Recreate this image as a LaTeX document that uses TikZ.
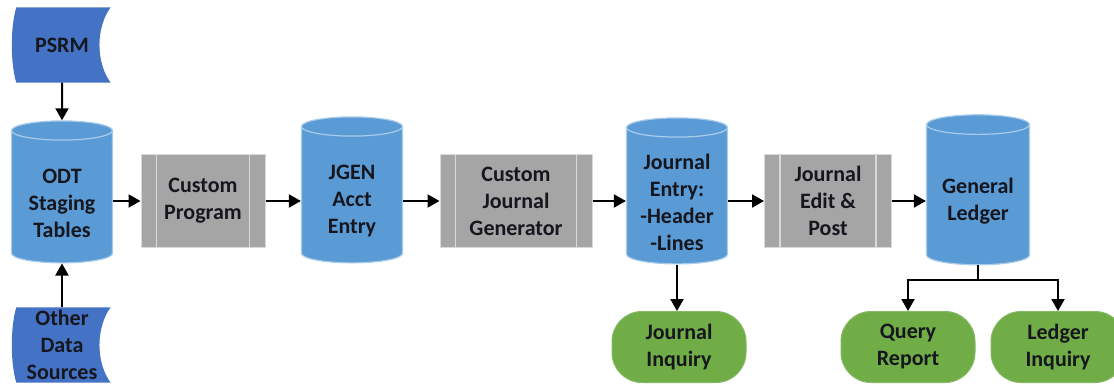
\documentclass[tikz,border=0pt]{standalone}
\usepackage{fontspec}
\setmainfont{Carlito}
\usetikzlibrary{shapes.geometric,arrows.meta,backgrounds}

\definecolor{srcblue}{HTML}{4472C4}
\definecolor{dbblue}{HTML}{5B9BD5}
\definecolor{dbline}{HTML}{A9CCEB}
\definecolor{procgray}{HTML}{A5A5A5}
\definecolor{procline}{HTML}{D9D9D9}
\definecolor{termgreen}{HTML}{70AD47}
\definecolor{txt}{HTML}{16161E}

\tikzset{
  lbl/.style={text=txt,font=\fontsize{22}{27}\selectfont\bfseries,align=center,inner sep=0pt},
  source/.style={lbl,minimum width=97,minimum height=75},
  db/.style={cylinder,shape border rotate=90,aspect=0.19,inner sep=0pt,text width=101pt,
    fill=dbblue,draw=dbline,line width=1.2pt,minimum height=146},
  dbtext/.style={label={[lbl,yshift=-6pt]center:#1}},
  proc/.style={lbl,rectangle,fill=procgray,draw=procline,line width=1pt,minimum width=124,minimum height=93},
  term/.style={lbl,rectangle,rounded corners=30,fill=termgreen,draw=termgreen!85!white,line width=1pt,minimum width=134,minimum height=71},
  flow/.style={-{Triangle[length=12pt,width=13pt]},line width=2pt,black},
}

\begin{document}
\begin{tikzpicture}[x=1pt,y=-1pt]
  \useasboundingbox (0,0) rectangle (1114,385);

  % sources
  \node (psrm)  at (62,45)  [source] {PSRM};
  \node (other) at (62,345) [source] {Other\\Data\\Sources};

  % stores, text sits a little below the middle
  \node (odt)  at (62,197)  [db,minimum height=142,dbtext={ODT\\Staging\\Tables}] {};
  \node (jgen) at (352,195) [db,dbtext={JGEN\\Acct\\Entry}] {};
  \node (je)   at (677,196) [db,dbtext={Journal\\Entry:\\-Header\\-Lines}] {};
  \node (gl)   at (978,195) [db,minimum height=150,text width=103pt,dbtext={General\\Ledger}] {};

  % processes
  \node (prog) at (203,201) [proc] {Custom\\Program};
  \node (cjg)  at (516,201) [proc,minimum width=152] {Custom\\Journal\\Generator};
  \node (jep)  at (828,201) [proc,minimum width=127] {Journal\\Edit \&\\Post};

  % outputs
  \node (jinq) at (679,347)  [term] {Journal\\Inquiry};
  \node (qrep) at (908,347)  [term] {Query\\Report};
  \node (linq) at (1058,347) [term] {Ledger\\Inquiry};

  % stored data outline behind the source labels
  \begin{scope}[on background layer]
    \foreach \s in {psrm,other}
      \fill[srcblue] ([xshift=3]\s.north west) -- (\s.north east)
        .. controls +(-15,20) and +(-15,-20) .. (\s.south east)
        -- ([xshift=3]\s.south west)
        .. controls +(-6,-20) and +(-6,20) .. ([xshift=3]\s.north west) -- cycle;
  \end{scope}

  % side bars of the process boxes
  \foreach \p in {prog,cjg,jep}{
    \draw[procline,line width=1.5pt] ([xshift=16]\p.north west) -- ([xshift=16]\p.south west);
    \draw[procline,line width=1.5pt] ([xshift=-16]\p.north east) -- ([xshift=-16]\p.south east);
  }

  \draw[flow] (psrm) -- (odt);
  \draw[flow] (other.north) -- (odt.south);
  \draw[flow] (odt.east |- prog.west) -- (prog.west);
  \draw[flow] (prog.east) -- (prog.east -| jgen.west);
  \draw[flow] (jgen.east |- cjg.west) -- (cjg.west);
  \draw[flow] (cjg.east) -- (cjg.east -| je.west);
  \draw[flow] (je.east |- jep.west) -- (jep.west);
  \draw[flow] (jep.east) -- (jep.east -| gl.west);
  \draw[flow] (je.south) -- (jinq.north -| je.south);
  \draw[line width=2pt] (gl.south) -- ++(0,15) coordinate (split);
  \draw[flow] (split) -| (qrep.north);
  \draw[flow] (split) -| (linq.north);
\end{tikzpicture}
\end{document}
